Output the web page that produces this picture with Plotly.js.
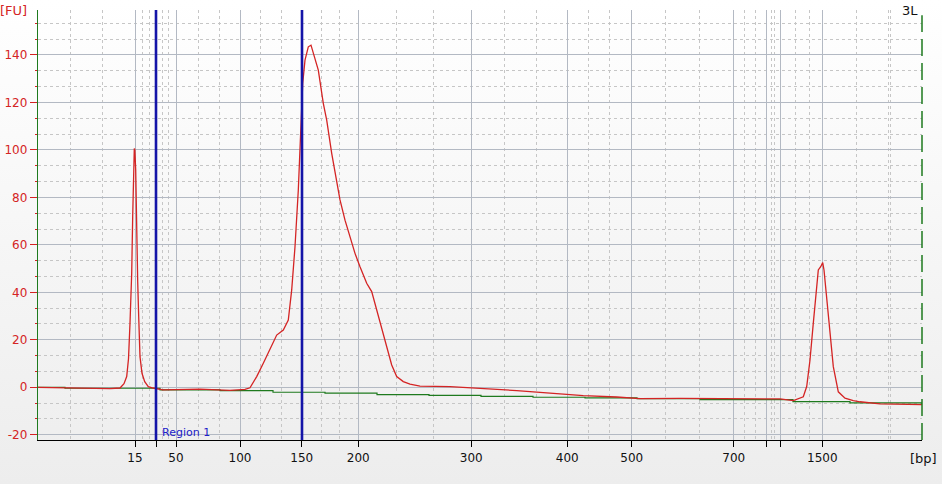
<!DOCTYPE html>
<html>
<head>
<meta charset="utf-8">
<script src="https://cdn.plot.ly/plotly-3.0.1.min.js"></script>
<style>
html,body{margin:0;padding:0;}
body{width:942px;height:484px;background:linear-gradient(#ffffff,#ededed);}
#chart{width:942px;height:484px;}
</style>
</head>
<body>
<div id="chart"></div>
<script>
// Migration time (s) and fluorescence (FU) of the sample trace
const timeSignal = [40.0,42.7,45.2,47.2,48.2,48.6,48.87,49.05,49.2,49.37,49.47,49.57,49.63,49.68,49.77,49.83,49.97,50.07,50.2,50.4,50.67,51.03,51.5,52.5,56.2,59.2,60.7,61.2,61.87,62.53,63.2,63.87,64.53,65.03,65.37,65.7,66.03,66.27,66.47,66.7,67.03,67.3,67.53,68.03,68.53,68.87,69.37,69.87,70.2,70.7,71.2,71.7,72.2,72.87,73.37,73.87,74.37,74.87,75.37,75.87,76.53,77.2,78.2,81.2,84.53,87.87,91.2,94.53,97.87,100.2,104.2,108.2,114.2,115.53,116.53,116.87,117.2,117.53,117.8,118.03,118.27,118.47,118.6,118.87,119.2,119.53,120.03,120.7,121.53,122.2,124.2,128.4];
const fuSignal   = [0.0,-0.2,-0.5,-0.6,-0.3,1.5,4.5,12,27,48,72,91.5,100.6,100.2,91.5,72,44.5,29.7,12.9,5.9,2.4,0.3,-0.3,-1.1,-0.8,-1.3,-0.9,-0.2,4.5,10.1,15.7,22.0,24.1,28.3,41,59.2,83,104,128,137.8,143.4,144.1,140.6,133.6,119.6,112.5,98.5,85.9,78.9,70.4,63.4,56.4,50.8,43.8,40.3,32.5,25.5,17.1,9.4,4.5,2.4,1.3,0.5,0.3,-0.4,-1.4,-2.5,-3.5,-4.1,-4.8,-4.7,-4.9,-4.9,-5.6,-4.0,0.3,11.5,27,41,49.4,50.8,52.5,49.4,36.8,21.3,8.7,-1.9,-4.6,-5.6,-6.1,-7.0,-7.3];

// Baseline (green)
const timeBaseline = [40.0,42.7,52.2,58.2,63.5,68.7,73.9,79.1,84.3,89.5,94.7,99.9,106.2,115.5,121.2,128.4];
const fuBaseline   = [0.0,-0.4,-1.1,-1.4,-2.1,-2.5,-3.1,-3.4,-3.8,-4.2,-4.5,-4.8,-5.2,-6.0,-6.6,-7.3];

// Ladder positions (s) and their size labels (bp)
const ladderTimes  = [49.7,51.8,53.8,60.2,66.37,72.03,83.33,92.93,99.37,109.57,112.87,114.23,118.43];
const ladderLabels = ['15','','50','100','150','200','300','400','500','700','','','1500'];
// Interpolated (dashed) grid positions (s)
const minorTimes = [43.2,46.4,50.4,51.1,52.4,53.0,56.0,58.1,62.2,64.3,68.3,70.1,75.8,79.5,86.6,89.8,95.0,97.1,102.7,106.1,110.6,111.7,113.3,113.6,115.7,117.1,121.8,125.0,125.2];

// Region 1 bounds (s)
const regionBounds = [51.8, 66.4];
const yTicks = [-20,0,20,40,60,80,100,120,140];

const FONT = 'DejaVu Sans, Verdana, sans-serif';
const RED = '#d42424';
const GREEN = '#1e7a1e';
const BLUE = '#1414a8';

const traces = [
  {x: timeBaseline, y: fuBaseline, type:'scatter', mode:'lines', line:{color:GREEN, width:1.2, shape:'hv'}, hoverinfo:'skip'},
  {x: timeSignal, y: fuSignal, type:'scatter', mode:'lines', line:{color:RED, width:1.3}, hoverinfo:'skip'}
];

const layout = {
  width:942, height:484,
  margin:{l:38, r:20, t:10, b:44},
  paper_bgcolor:'rgba(0,0,0,0)',
  plot_bgcolor:'rgba(0,0,0,0)',
  showlegend:false,
  font:{family:FONT, size:12, color:'#000'},
  xaxis:{
    type:'linear', range:[40,128.4], fixedrange:true,
    tickmode:'array', tickvals:ladderTimes, ticktext:ladderLabels,
    ticks:'outside', ticklen:6, tickcolor:'#000', tickwidth:1,
    showline:true, linecolor:'#000', linewidth:1.3,
    showgrid:true, gridcolor:'#b3b9c3', gridwidth:1,
    zeroline:false,
    tickfont:{family:FONT, size:12, color:'#111'},
    minor:{tickmode:'array', tickvals:minorTimes, showgrid:true, gridcolor:'#c6c6c6', gridwidth:1, griddash:'3px,3px', ticks:''}
  },
  yaxis:{
    range:[-22.2,158.9], fixedrange:true,
    tickmode:'array', tickvals:yTicks, ticktext:yTicks.map(String),
    ticks:'outside', ticklen:7, tickcolor:RED, tickwidth:1,
    showline:true, linecolor:GREEN, linewidth:1.3,
    showgrid:true, gridcolor:'#b3b9c3', gridwidth:1,
    zeroline:false,
    tickfont:{family:FONT, size:12, color:RED},
    minor:{tickmode:'linear', tick0:0, dtick:6.6667, showgrid:true, gridcolor:'#c6c6c6', gridwidth:1, griddash:'3px,3px', ticks:'outside', ticklen:2, tickcolor:RED}
  },
  shapes:[
    {type:'line', xref:'x', yref:'paper', x0:regionBounds[0], x1:regionBounds[0], y0:0, y1:1, line:{color:BLUE, width:2.6}},
    {type:'line', xref:'x', yref:'paper', x0:regionBounds[1], x1:regionBounds[1], y0:0, y1:1, line:{color:BLUE, width:2.6}},
    {type:'line', xref:'paper', yref:'paper', x0:1, x1:1, y0:0, y1:0.988, line:{color:GREEN, width:1.5, dash:'17px,7px'}}
  ],
  annotations:[
    {text:'Region 1', xref:'x', yref:'paper', x:regionBounds[0], y:0.017, xanchor:'left', yanchor:'middle', xshift:4, showarrow:false, font:{family:FONT, size:11, color:'#2020c8'}},
    {text:'3L', xref:'paper', yref:'paper', x:1, y:1, xanchor:'right', yanchor:'middle', xshift:-2, showarrow:false, font:{family:FONT, size:13, color:'#111'}},
    {text:'[FU]', xref:'paper', yref:'paper', x:0, y:1, xanchor:'right', yanchor:'middle', xshift:-9, showarrow:false, font:{family:FONT, size:13, color:RED}},
    {text:'[bp]', xref:'paper', yref:'paper', x:1, y:-0.042, xanchor:'center', yanchor:'middle', xshift:1, showarrow:false, font:{family:FONT, size:13, color:'#111'}}
  ]
};

Plotly.newPlot('chart', traces, layout, {staticPlot:true, displayModeBar:false});
</script>
</body>
</html>
